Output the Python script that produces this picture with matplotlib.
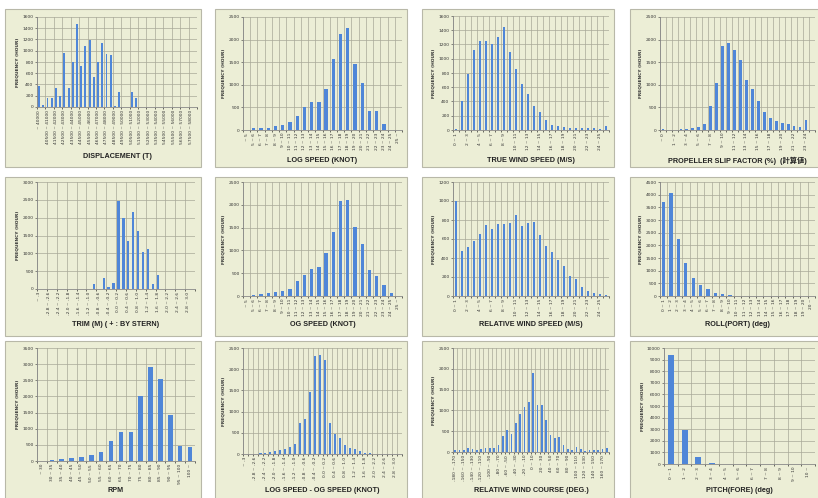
import matplotlib
matplotlib.use("Agg")
import matplotlib.pyplot as plt
from matplotlib.patches import Rectangle
import numpy as np

W, H = 818, 498
BG = "#eceed6"
EDGE = "#b8b8a8"
BAR = "#4f86d8"
GRID = "#a8a898"
TITLE_FONT = ["Liberation Sans", "Noto Sans CJK JP", "DejaVu Sans"]

# ---- data (hours per bin) ----
disp_labels = ["~ 40000"] + ["%d ~ %d" % (40000 + 500 * k, 40500 + 500 * k) for k in range(36)] + ["58000 ~"]
disp_vals = [370, 30, 160, 160, 330, 200, 960, 330, 800, 1470, 730, 1090, 1190, 540, 800, 1140, 940, 920,
             10, 260, 0, 0, 270, 160, 0, 0, 0, 0, 0, 0, 0, 0, 0, 0, 0, 0, 0, 0]

log_labels = ["~ 5"] + ["%d ~ %d" % (k, k + 1) for k in range(5, 25)] + ["25 ~"]
log_vals = [10, 45, 45, 55, 95, 100, 170, 320, 500, 630, 630, 900, 1560, 2130, 2250, 1450, 1050, 410, 420,
            125, 0, 0]

tws_labels = ["%d ~ %d" % (k, k + 1) for k in range(25)] + ["25 ~"]
tws_vals = [20, 400, 780, 1120, 1250, 1250, 1210, 1300, 1440, 1100, 850, 640, 500, 330, 250, 140, 70, 50,
            45, 35, 35, 30, 25, 25, 20, 55]

slip_labels = ["~ 0"] + ["%d ~ %d" % (k, k + 1) for k in range(24)] + ["24 ~"]
slip_vals = [20, 5, 10, 15, 30, 45, 60, 130, 520, 1050, 1850, 1920, 1770, 1550, 1100, 900, 640, 400, 260,
             200, 160, 140, 80, 70, 230, 0]

trim_labels = ["~ -3"] + ["%.1f ~ %.1f" % (-3 + 0.2 * k, -2.8 + 0.2 * k) for k in range(30)] + ["3 ~"]
trim_vals = [0, 0, 0, 0, 0, 0, 0, 0, 0, 0, 0, 140, 0, 320, 70, 180, 2480, 2000, 1350, 2150, 1620, 1050,
             1130, 140, 400, 0, 0, 0, 0, 0, 0, 0]

og_labels = ["~ 5"] + ["%d ~ %d" % (k, k + 1) for k in range(5, 25)] + ["25 ~"]
og_vals = [0, 30, 50, 75, 95, 110, 145, 330, 465, 595, 640, 950, 1400, 2090, 2100, 1515, 1140, 560, 440,
           250, 60, 0]

rws_labels = ["%d ~ %d" % (k, k + 1) for k in range(25)] + ["25 ~"]
rws_vals = [1000, 473, 519, 582, 650, 748, 706, 755, 755, 766, 854, 738, 766, 780, 640, 522, 466, 378, 314,
            208, 176, 99, 53, 32, 21, 10]

roll_labels = ["%d ~ %d" % (k, k + 1) for k in range(20)] + ["20 ~"]
roll_vals = [3730, 4060, 2240, 1300, 730, 450, 265, 120, 66, 30, 0, 0, 0, 0, 0, 0, 0, 0, 0, 0, 0]

rpm_labels = ["~ 30"] + ["%d ~ %d" % (k, k + 5) for k in range(30, 100, 5)] + ["100 ~"]
rpm_vals = [10, 40, 60, 100, 130, 195, 290, 630, 890, 890, 2020, 2900, 2550, 1420, 460, 440]

diff_labels = ["~ -3"] + ["%.1f ~ %.1f" % (-3 + 0.2 * k, -2.8 + 0.2 * k) for k in range(30)] + ["3 ~"]
diff_vals = [5, 5, 10, 30, 20, 50, 60, 100, 110, 170, 240, 720, 830, 1470, 2320, 2330, 2220, 740, 460, 370,
             210, 130, 110, 70, 30, 20, 10, 5, 5, 5, 5, 5]

rwc_labels = ["%d ~ %d" % (k, k + 10) for k in range(-180, 180, 10)]
rwc_vals = [50, 50, 60, 90, 70, 50, 70, 90, 100, 100, 160, 390, 540, 440, 690, 920, 1070, 1200, 1900, 1130,
            1130, 770, 400, 330, 370, 170, 80, 60, 110, 80, 30, 40, 50, 60, 80, 90]

pitch_labels = ["%d ~ %d" % (k, k + 1) for k in range(10)] + ["10 ~"]
pitch_vals = [9420, 2940, 630, 100, 0, 0, 0, 0, 0, 0, 0]

# panels: (box px, plot px, title, title y px, labels, values, ymax, ystep, label step, grid step)
panels = [
    ((5, 9, 201, 167), (37, 17, 197, 107), "DISPLACEMENT (T)", 157, disp_labels, disp_vals, 1600, 200, 2, 2),
    ((215, 9, 407, 167), (243, 17, 402, 130), "LOG SPEED (KNOT)", 160, log_labels, log_vals, 2500, 500, 1, 1),
    ((422, 9, 614, 167), (453, 16, 609, 130), "TRUE WIND SPEED (M/S)", 160, tws_labels, tws_vals,
     1600, 200, 2, 1),
    ((630, 9, 820, 167), (660, 17, 815, 130), "PROPELLER SLIP FACTOR (%)  (計算値)", 161, slip_labels, slip_vals,
     2500, 500, 2, 1),
    ((5, 177, 201, 336), (37, 182, 195, 289), "TRIM (M) ( + : BY STERN)", 325, trim_labels, trim_vals,
     3000, 500, 2, 2),
    ((215, 177, 407, 336), (243, 182, 402, 296), "OG SPEED (KNOT)", 324, og_labels, og_vals, 2500, 500, 1, 1),
    ((422, 177, 614, 336), (453, 182, 609, 296), "RELATIVE WIND SPEED (M/S)", 324, rws_labels, rws_vals,
     1200, 200, 2, 1),
    ((630, 177, 820, 336), (660, 182, 815, 296), "ROLL(PORT) (deg)", 325, roll_labels, roll_vals,
     4500, 500, 1, 1),
    ((5, 341, 201, 500), (37, 348, 195, 461), "RPM", 490, rpm_labels, rpm_vals, 3500, 500, 1, 1),
    ((215, 341, 407, 500), (243, 348, 402, 454), "LOG SPEED - OG SPEED (KNOT)", 490, diff_labels, diff_vals,
     2500, 500, 2, 1),
    ((422, 341, 614, 500), (453, 348, 609, 452), "RELATIVE WIND COURSE (DEG.)", 490, rwc_labels, rwc_vals,
     2500, 500, 2, 1),
    ((630, 341, 820, 500), (664, 348, 815, 464), "PITCH(FORE) (deg)", 490, pitch_labels, pitch_vals,
     10000, 1000, 1, 1),
]

fig = plt.figure(figsize=(W / 100, H / 100), dpi=100)
fig.patch.set_facecolor("white")

for box, plot, title, ty, labels, vals, ymax, ystep, lstep, gstep in panels:
    bx0, by0, bx1, by1 = box
    fig.patches.append(Rectangle((bx0 / W, 1 - by1 / H), (bx1 - bx0) / W, (by1 - by0) / H,
                                 transform=fig.transFigure, facecolor=BG, edgecolor=EDGE, lw=0.8,
                                 zorder=-10))
    x0, y0, x1, y1 = plot
    ax = fig.add_axes([x0 / W, 1 - y1 / H, (x1 - x0) / W, (y1 - y0) / H])
    ax.set_facecolor(BG)
    n = len(vals)
    x = np.arange(n)
    ax.bar(x, vals, width=0.45, color=BAR, zorder=3)
    ax.set_xlim(-0.5, n - 0.5)
    ax.set_ylim(0, ymax)
    ax.set_yticks(np.arange(0, ymax + 1, ystep))
    ax.tick_params(axis="y", labelsize=3.2, length=1.5, width=0.4, pad=1, colors="#333333")
    ax.set_xticks(x[::lstep])
    ax.set_xticklabels(labels[::lstep], rotation=90, fontsize=3.2, color="#333333")
    ax.tick_params(axis="x", length=0, pad=2)
    ax.set_xticks(np.arange(-0.5, n, gstep), minor=True)
    ax.tick_params(axis="x", which="minor", length=1.5, width=0.4)
    ax.grid(True, which="minor", axis="x", color=GRID, lw=0.5, zorder=0)
    ax.grid(True, which="major", axis="y", color=GRID, lw=0.5, zorder=0)
    ax.set_axisbelow(True)
    for side in ["top", "right"]:
        ax.spines[side].set_visible(False)
    for side in ["left", "bottom"]:
        ax.spines[side].set_color("#888888")
        ax.spines[side].set_linewidth(0.6)
    ax.set_ylabel("FREQUENCY (HOUR)", fontsize=3.2, fontweight="bold", labelpad=2, color="#333333")
    fig.text((x0 + x1) / 2 / W, 1 - ty / H, title, ha="center", va="center", fontsize=5.2,
             fontweight="bold", color="#222222", family=TITLE_FONT)

fig.savefig("out.png", dpi=100, facecolor="white")
